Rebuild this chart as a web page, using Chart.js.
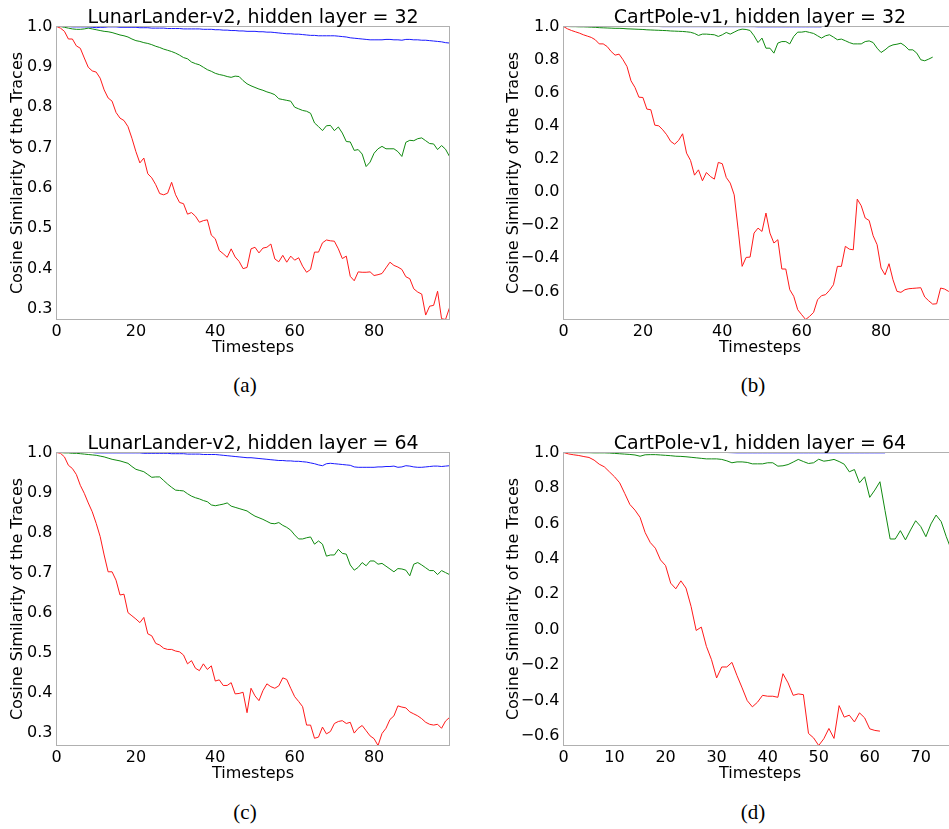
<!DOCTYPE html>
<html><head><meta charset="utf-8">
<script src="https://cdn.jsdelivr.net/npm/chart.js@4.4.1/dist/chart.umd.min.js"></script>
<style>
html,body{margin:0;padding:0;background:#fff;overflow:hidden;width:949px;height:829px;}
canvas.pc{position:absolute;}
.lbl{position:absolute;width:100px;text-align:center;font-family:'Liberation Serif','Times New Roman',serif;font-size:21px;line-height:24px;color:#000;}
</style></head><body>
<canvas id="ca" class="pc" style="left:0px;top:0px" width="470" height="360"></canvas>
<canvas id="cb" class="pc" style="left:480px;top:0px" width="480" height="360"></canvas>
<canvas id="cc" class="pc" style="left:0px;top:426px" width="470" height="360"></canvas>
<canvas id="cd" class="pc" style="left:480px;top:426px" width="480" height="360"></canvas>
<div class="lbl" style="left:195px;top:373px">(a)</div>
<div class="lbl" style="left:703px;top:373px">(b)</div>
<div class="lbl" style="left:195px;top:800px">(c)</div>
<div class="lbl" style="left:703px;top:800px">(d)</div>
<script>
// ---------- Tick labels ----------
const yTicksLunar = [0.3, 0.4, 0.5, 0.6, 0.7, 0.8, 0.9, 1.0];
const yTicksCart = [-0.6, -0.4, -0.2, 0.0, 0.2, 0.4, 0.6, 0.8, 1.0];
const xTicks100 = [0, 20, 40, 60, 80];
const xTicksCart64 = [0, 10, 20, 30, 40, 50, 60, 70];

// ---------- (a) LunarLander-v2, hidden layer = 32 ----------
const redA = [1.0,0.996,0.988,0.969,0.969,0.952,0.946,0.922,0.899,0.890,
0.887,0.872,0.843,0.823,0.815,0.787,0.773,0.767,0.752,0.723,
0.690,0.662,0.674,0.635,0.625,0.608,0.586,0.583,0.587,0.614,
0.583,0.564,0.561,0.535,0.539,0.530,0.515,0.519,0.521,0.483,
0.474,0.445,0.437,0.428,0.449,0.429,0.418,0.400,0.403,0.449,
0.453,0.439,0.451,0.453,0.461,0.424,0.417,0.433,0.416,0.431,
0.421,0.427,0.406,0.391,0.398,0.441,0.441,0.464,0.471,0.469,
0.468,0.449,0.425,0.431,0.381,0.370,0.392,0.391,0.391,0.392,
0.383,0.385,0.388,0.402,0.416,0.408,0.404,0.398,0.380,0.375,
0.350,0.342,0.337,0.285,0.307,0.309,0.344,0.276,0.274,0.303];
const greenA = [1.0,1.0,0.998,0.996,0.994,0.993,0.993,0.994,0.996,0.994,
0.992,0.990,0.988,0.987,0.985,0.982,0.979,0.977,0.974,0.969,
0.965,0.963,0.960,0.958,0.955,0.951,0.948,0.944,0.941,0.938,
0.934,0.929,0.923,0.920,0.912,0.908,0.905,0.899,0.893,0.889,
0.884,0.881,0.879,0.876,0.874,0.877,0.876,0.866,0.858,0.853,
0.849,0.845,0.842,0.838,0.835,0.831,0.821,0.819,0.817,0.815,
0.800,0.796,0.792,0.790,0.785,0.761,0.752,0.742,0.754,0.755,
0.742,0.751,0.736,0.715,0.714,0.693,0.695,0.684,0.653,0.664,
0.686,0.697,0.703,0.697,0.697,0.697,0.690,0.678,0.713,0.718,
0.717,0.722,0.724,0.717,0.710,0.709,0.695,0.705,0.696,0.678];
const blueA = [1.0,1.0,1.0,1.0,0.999,0.999,0.999,0.999,0.999,0.998,
0.997,0.998,0.998,0.999,0.999,0.999,0.998,0.998,0.998,0.998,
0.998,0.997,0.997,0.997,0.996,0.996,0.996,0.996,0.995,0.995,
0.995,0.995,0.994,0.994,0.994,0.994,0.994,0.993,0.993,0.993,
0.992,0.992,0.991,0.991,0.990,0.990,0.989,0.989,0.988,0.988,
0.988,0.987,0.987,0.986,0.986,0.985,0.984,0.983,0.982,0.982,
0.981,0.981,0.980,0.979,0.978,0.978,0.977,0.977,0.977,0.977,
0.977,0.976,0.975,0.974,0.972,0.971,0.970,0.969,0.968,0.967,
0.967,0.967,0.967,0.968,0.968,0.967,0.967,0.966,0.968,0.968,
0.967,0.967,0.966,0.966,0.965,0.964,0.963,0.962,0.960,0.959];
const orangeA = [1,1,1,1,1,1,1,1,1,1, 1,1,1,1,1,1,1,1,1,1, 1,1,1,1,1,1,1,1,1,1,
1,1,1,1,1,1,1,1,1,1, 1,1,1,1,1,1,1,1,1,1, 1,1,1,1,1,1,1,1,1,1,
1,1,1,1,1,1,1,1,1,1, 1,1,1,1,1,1,1,1,1,1, 1,1,1,1,1,1,1,1,1,1, 1,1,1,1,1,1,1,1,1,1];

// ---------- (b) CartPole-v1, hidden layer = 32 ----------
const redB = [1.0,0.986,0.976,0.968,0.960,0.950,0.942,0.934,0.920,0.895,
0.895,0.879,0.849,0.827,0.833,0.799,0.758,0.672,0.632,0.573,
0.571,0.501,0.497,0.404,0.400,0.376,0.346,0.306,0.289,0.312,
0.352,0.235,0.191,0.102,0.134,0.068,0.118,0.094,0.078,0.179,
0.171,0.088,0.054,-0.017,-0.228,-0.449,-0.395,-0.393,-0.248,-0.218,
-0.238,-0.127,-0.248,-0.308,-0.288,-0.465,-0.465,-0.590,-0.630,-0.711,
-0.741,-0.770,-0.751,-0.727,-0.651,-0.626,-0.620,-0.594,-0.560,-0.449,
-0.449,-0.328,-0.345,-0.349,-0.043,-0.083,-0.157,-0.172,-0.264,-0.318,
-0.459,-0.500,-0.433,-0.530,-0.600,-0.606,-0.590,-0.584,-0.582,-0.580,
-0.578,-0.634,-0.657,-0.677,-0.675,-0.580,-0.586,-0.600,-0.610,-0.620];
const greenB = [1.0,1.0,0.999,0.999,0.998,0.998,0.997,0.996,0.995,0.993,
0.992,0.991,0.990,0.989,0.989,0.988,0.986,0.985,0.984,0.983,
0.982,0.980,0.979,0.978,0.977,0.976,0.975,0.973,0.972,0.971,
0.970,0.968,0.965,0.958,0.946,0.954,0.954,0.952,0.950,0.940,
0.950,0.964,0.954,0.966,0.978,0.984,0.982,0.976,0.944,0.903,
0.930,0.869,0.869,0.839,0.900,0.909,0.909,0.895,0.940,0.966,
0.966,0.970,0.964,0.958,0.944,0.930,0.944,0.950,0.936,0.920,
0.924,0.914,0.903,0.895,0.895,0.895,0.909,0.913,0.903,0.869,
0.843,0.859,0.879,0.889,0.893,0.899,0.883,0.859,0.859,0.839,
0.799,0.793,0.803,0.815];
const blueB = [1,1,1,1,1,1,1,1,1,1, 1,1,1,1,1,1,1,1,1,1,
1,1,1,1,1,0.999,0.999,0.999,0.999,0.999, 0.999,0.999,0.999,0.999,0.999,0.999,0.999,0.999,0.999,0.999,
0.999,0.999,0.999,0.999,0.999,0.999,0.999,0.999,0.999,0.998, 0.998,0.998,0.998,0.998,0.998,0.998,0.998,0.998,0.998,0.998,
0.998,0.998,0.998,0.998,0.998,0.998];
const orangeB = [1,1,1,1,1,1,1,1,1,1, 1,1,1,1,1,1,1,1,1,1, 1,1,1,1,1,1,1,1,1,1,
1,1,1,1,1,1,1,1,1,1, 1,1,1,1,1,1,1,1,1,1];

// ---------- (c) LunarLander-v2, hidden layer = 64 ----------
const redC = [1.0,0.998,0.989,0.968,0.960,0.945,0.918,0.898,0.874,0.852,
0.823,0.790,0.744,0.702,0.702,0.681,0.644,0.646,0.600,0.592,
0.584,0.575,0.588,0.547,0.542,0.523,0.519,0.511,0.508,0.508,
0.504,0.502,0.494,0.472,0.480,0.461,0.455,0.472,0.458,0.467,
0.429,0.432,0.418,0.418,0.425,0.397,0.398,0.401,0.350,0.411,
0.392,0.380,0.405,0.422,0.415,0.411,0.417,0.437,0.433,0.411,
0.390,0.378,0.365,0.319,0.319,0.286,0.289,0.314,0.297,0.303,
0.323,0.328,0.330,0.323,0.326,0.299,0.311,0.318,0.305,0.292,
0.285,0.268,0.298,0.311,0.333,0.342,0.367,0.364,0.362,0.352,
0.347,0.342,0.335,0.326,0.321,0.319,0.321,0.311,0.329,0.338];
const greenC = [1.0,1.0,0.999,0.999,0.998,0.998,0.997,0.996,0.995,0.994,
0.993,0.991,0.989,0.986,0.983,0.981,0.979,0.976,0.973,0.965,
0.958,0.955,0.952,0.945,0.938,0.939,0.939,0.930,0.921,0.913,
0.906,0.905,0.904,0.897,0.891,0.887,0.884,0.880,0.877,0.869,
0.867,0.869,0.871,0.874,0.866,0.863,0.860,0.857,0.854,0.847,
0.841,0.837,0.833,0.828,0.823,0.822,0.825,0.818,0.813,0.806,
0.794,0.784,0.784,0.787,0.789,0.771,0.779,0.771,0.741,0.744,
0.744,0.758,0.748,0.746,0.719,0.706,0.713,0.725,0.717,0.729,
0.729,0.721,0.723,0.716,0.709,0.702,0.710,0.709,0.706,0.692,
0.721,0.725,0.719,0.712,0.705,0.705,0.695,0.705,0.700,0.695];
const blueC = [1,1,1,1,1,1,1,1,1,1, 0.999,0.999,0.999,0.999,0.999,0.999,0.999,0.999,0.999,0.999,
0.999,0.999,0.998,0.998,0.998,0.998,0.998,0.998,0.998,0.997,
0.997,0.997,0.997,0.996,0.996,0.996,0.996,0.995,0.995,0.995,
0.995,0.994,0.993,0.992,0.991,0.990,0.989,0.988,0.987,0.987,
0.986,0.985,0.984,0.983,0.982,0.981,0.980,0.980,0.979,0.979,
0.978,0.978,0.977,0.976,0.974,0.972,0.969,0.967,0.972,0.973,
0.972,0.971,0.970,0.969,0.968,0.964,0.963,0.963,0.963,0.963,
0.963,0.964,0.964,0.965,0.965,0.966,0.963,0.964,0.967,0.966,
0.964,0.963,0.963,0.964,0.965,0.966,0.966,0.965,0.966,0.967];
const orangeC = [1,1,1,1,1,1,1,1,1,1, 1,1,1,1,1,1,1,1,1,1, 1,1,1,1,1,1,1,1,1,1,
1,1,1,1,1,1,1,1,1,1, 1,1,1,1,1,1,1,1,1,1, 1,1,1,1,1,1,1,1,1,1,
1,1,1,1,1,1,1,1,1,1, 1,1,1,1,1,1,1,1,1,1, 1,1,1,1,1,1,1,1,1,1, 1,1,1,1,1,1,1,1,1,1];

// ---------- (d) CartPole-v1, hidden layer = 64 ----------
const redD = [1.0,0.992,0.987,0.983,0.977,0.972,0.957,0.934,0.919,0.891,
0.863,0.829,0.769,0.707,0.675,0.634,0.548,0.492,0.460,0.394,
0.362,0.263,0.231,0.276,0.235,0.131,-0.004,0.015,-0.094,-0.169,
-0.272,-0.210,-0.210,-0.184,-0.259,-0.328,-0.400,-0.435,-0.409,-0.370,
-0.375,-0.375,-0.381,-0.248,-0.300,-0.370,-0.362,-0.366,-0.585,-0.610,
-0.653,-0.615,-0.557,-0.613,-0.428,-0.493,-0.482,-0.520,-0.469,-0.497,
-0.559,-0.568,-0.572];
const greenD = [1.0,1.0,0.999,0.999,0.999,0.999,0.998,0.998,0.998,0.997,
0.995,0.993,0.991,0.989,0.986,0.979,0.987,0.988,0.988,0.986,
0.984,0.982,0.979,0.978,0.976,0.973,0.970,0.967,0.964,0.964,
0.964,0.961,0.953,0.942,0.947,0.947,0.944,0.936,0.936,0.936,
0.942,0.942,0.923,0.925,0.932,0.946,0.961,0.949,0.938,0.942,
0.962,0.951,0.955,0.961,0.949,0.934,0.891,0.904,0.829,0.863,
0.747,0.788,0.835,0.672,0.512,0.512,0.559,0.507,0.563,0.615,
0.582,0.525,0.597,0.647,0.610,0.525,0.450,0.400];
const blueD = [1,1,1,1,1,1,1,1,1,1, 1,1,1,1,1,1,1,1,1,1, 1,1,1,1,1,1,1,1,1,1,
1,1,1,0.999,0.998,0.998,0.998,0.998,0.998,0.998, 0.998,0.998,0.998,0.998,0.998,0.998,0.998,0.998,0.998,0.998,
0.998,0.998,0.998,0.998,0.998,0.998,0.998,0.998,0.998,0.998, 0.998,0.998,0.998,0.998];
const orangeD = [1,1,1,1,1,1,1,1,1,1, 1,1,1,1,1,1,1,1,1,1, 1,1,1,1,1,1,1,1,1,1,
1,1,1,1,1,1,1,1,1,1, 1,1,1,1,1,1,1,1,1,1, 1,1,1,1,1,1,1,1,1,1, 1,1];

const FONT = '"DejaVu Sans", sans-serif';

const framePlugin = {
  id: 'frame',
  afterDatasetsDraw(chart, args, opts) {
    const {ctx, chartArea: a} = chart;
    ctx.save();
    ctx.strokeStyle = '#b0b0b0';
    ctx.lineWidth = 1;
    ctx.strokeRect(a.left, a.top, a.right - a.left, a.bottom - a.top);
    ctx.restore();
  },
  afterDraw(chart, args, opts) {
    const {ctx, chartArea: a} = chart;
    ctx.save();
    ctx.fillStyle = '#000';
    ctx.font = '19px ' + FONT;
    ctx.textAlign = 'center';
    ctx.textBaseline = 'alphabetic';
    ctx.fillText(opts.text, (a.left + a.right) / 2, a.top - 4);
    ctx.restore();
  }
};

function pts(arr) { return arr.map((v, i) => ({x: i, y: v})); }

function makeChart(id, p) {
  const n = Math.max(p.red.length, p.green.length, p.blue.length, p.orange.length);
  const yMin = Math.min(...p.red, ...p.green, ...p.blue, ...p.orange);
  const yMax = Math.max(...p.red, ...p.green, ...p.blue, ...p.orange);
  const ds = (arr, col) => ({data: pts(arr), borderColor: col, backgroundColor: col,
    borderWidth: 1, pointRadius: 0, tension: 0, fill: false});
  new Chart(document.getElementById(id), {
    type: 'line',
    data: {datasets: [ds(p.red, '#ff1a1a'), ds(p.green, '#108a10'), ds(p.orange, '#ffa500'), ds(p.blue, '#1a1aff')]},
    options: {
      responsive: false, animation: false, devicePixelRatio: 1,
      layout: {padding: {top: 26.5, left: 0, right: p.rightPad, bottom: 0}},
      plugins: {legend: {display: false}, tooltip: {enabled: false}, frame: {text: p.title}},
      scales: {
        x: {
          type: 'linear', min: 0, max: n - 1,
          afterBuildTicks: s => { s.ticks = p.xTicks.map(v => ({value: v})); },
          afterFit: s => { s.height = 40.5; },
          grid: {display: false, drawTicks: false, tickLength: 0},
          border: {display: false},
          ticks: {padding: 3, color: '#000', autoSkip: false, maxRotation: 0,
            font: {family: FONT, size: 16}, callback: v => String(v)},
          title: {display: true, text: 'Timesteps', color: '#000',
            font: {family: FONT, size: 16}, padding: {top: 0, bottom: 3}}
        },
        y: {
          type: 'linear', min: yMin, max: yMax,
          afterBuildTicks: s => { s.ticks = p.yTicks.map(v => ({value: v})); },
          afterFit: s => { s.width = p.yWidth; },
          grid: {display: false, drawTicks: false, tickLength: 0},
          border: {display: false},
          ticks: {padding: 4, color: '#000', autoSkip: false,
            font: {family: FONT, size: 16},
            callback: v => Number(v).toFixed(1).replace('-', '\u2212')},
          title: {display: true, text: 'Cosine Similarity of the Traces', color: '#000',
            font: {family: FONT, size: 16}, padding: {top: p.yTitlePad, bottom: 0}}
        }
      }
    },
    plugins: [framePlugin]
  });
}

makeChart('ca', {title: 'LunarLander-v2, hidden layer = 32', red: redA, green: greenA, blue: blueA, orange: orangeA,
  yTicks: yTicksLunar, xTicks: xTicks100, yWidth: 56.5, rightPad: 20.5, yTitlePad: 8.6});
makeChart('cb', {title: 'CartPole-v1, hidden layer = 32', red: redB, green: greenB, blue: blueB, orange: orangeB,
  yTicks: yTicksCart, xTicks: xTicks100, yWidth: 83.5, rightPad: 3.5, yTitlePad: 24});
makeChart('cc', {title: 'LunarLander-v2, hidden layer = 64', red: redC, green: greenC, blue: blueC, orange: orangeC,
  yTicks: yTicksLunar, xTicks: xTicks100, yWidth: 56.5, rightPad: 20.5, yTitlePad: 8.6});
makeChart('cd', {title: 'CartPole-v1, hidden layer = 64', red: redD, green: greenD, blue: blueD, orange: orangeD,
  yTicks: yTicksCart, xTicks: xTicksCart64, yWidth: 83.5, rightPad: 3.5, yTitlePad: 24});
</script>
</body></html>
